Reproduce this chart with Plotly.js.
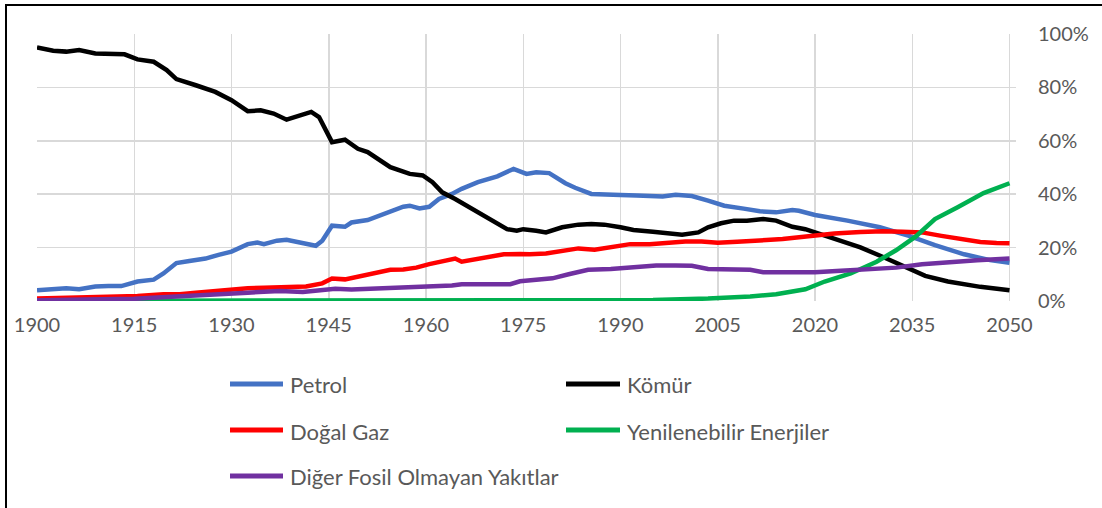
<!DOCTYPE html>
<html>
<head>
<meta charset="utf-8">
<script src="https://cdn.plot.ly/plotly-3.0.1.min.js"></script>
<style>html,body{margin:0;padding:0;background:#fff;}#chart{width:1102px;height:508px;}</style>
</head>
<body>
<div id="chart"></div>
<script>
// ---- data ----
const seriesNames = ["Petrol", "Kömür", "Doğal Gaz", "Yenilenebilir Enerjiler", "Diğer Fosil Olmayan Yakıtlar"];
const seriesColors = ["#4472C4", "#000000", "#FF0000", "#00B050", "#7030A0"];

const petrolYears = [1900,1902.5,1904.5,1906.5,1909,1911,1913,1915.5,1918,1919.5,1921.5,1923.5,1926,1928,1930,1932.5,1934,1935,1937,1938.5,1940.5,1941.5,1943,1944,1945.5,1947.5,1948.5,1951,1954,1956.5,1957.5,1959,1960.5,1962,1964,1965.5,1968,1971,1973.5,1975.5,1977,1979,1981.5,1983,1985.5,1987.5,1990,1992.5,1994.5,1996.5,1998.5,2001,2003.5,2006,2009,2011.5,2014,2016.5,2017.5,2020,2025,2030,2034.5,2038.5,2043,2047,2050];
const petrolValues = [4.0,4.6,4.8,4.4,5.4,5.6,5.6,7.3,8.0,10.3,14.2,15.0,15.9,17.3,18.5,21.3,21.9,21.3,22.6,22.9,21.9,21.7,20.7,22.6,28.2,27.8,29.4,30.3,33.2,35.3,35.7,34.7,35.3,38.2,40.1,42.0,44.5,46.7,49.5,47.6,48.2,47.9,44.1,42.4,40.1,39.8,39.7,39.5,39.5,39.1,39.8,39.3,37.6,35.7,34.6,33.6,33.2,34.1,33.8,32.2,30.1,27.6,24.4,20.9,17.5,15.3,14.3];

const komurYears = [1900,1902.5,1904.5,1906.5,1909,1911,1913.5,1915.5,1918,1920,1921.5,1924.5,1927.5,1930,1932.5,1934.5,1936.5,1938.5,1940.5,1942.3,1943.5,1944.5,1945.5,1947.5,1949.5,1951,1952.5,1954.5,1957.5,1959.5,1961,1962.5,1964.5,1968,1970,1972.5,1974,1975,1977,1978.5,1981,1983.5,1985.5,1987.5,1990,1992,1995,1997.5,1999.5,2002,2003.5,2005.5,2007.5,2009.5,2012,2014,2016.5,2018.5,2020,2023,2027,2030.5,2033.5,2037,2040.5,2045.5,2050];
const komurValues = [95.0,93.7,93.4,94.0,92.7,92.4,92.4,90.5,89.6,86.5,83.1,80.8,78.3,75.2,71.1,71.4,70.2,67.9,69.5,70.8,68.9,64.5,59.5,60.4,57.0,55.8,53.3,50.1,47.6,47.0,44.5,40.7,38.2,33.2,30.1,26.9,26.3,26.9,26.3,25.7,27.6,28.6,28.8,28.6,27.6,26.6,25.9,25.3,24.8,25.7,27.6,29.1,30.1,30.1,30.7,30.1,27.8,26.9,25.7,23.2,20.1,16.5,13.2,9.4,7.3,5.3,4.0];

const gazYears = [1900,1909,1915.5,1919.5,1922,1924.5,1927.5,1930,1932.5,1935,1937.5,1939,1941.5,1944,1945.5,1947.5,1950,1952.5,1954.5,1956.5,1958.5,1960.5,1962.5,1964.5,1965.5,1968,1970,1972,1974.5,1976,1978.5,1981,1983.5,1986,1988.5,1991.5,1994.5,1997,2000,2002.5,2005,2008,2010,2012.5,2015,2017.5,2020,2023,2027,2030.5,2033.5,2036.5,2039.5,2043,2045.5,2048,2050];
const gazValues = [0.9,1.3,1.9,2.5,2.5,3.1,3.8,4.4,4.8,5.0,5.3,5.5,5.4,6.6,8.4,8.1,9.4,11.0,11.7,11.8,12.5,13.8,15.0,15.9,14.7,15.9,16.7,17.5,17.6,17.5,17.8,18.8,19.7,19.2,20.1,21.3,21.3,21.9,22.3,22.3,21.8,22.2,22.3,22.8,23.2,23.8,24.7,25.3,25.8,26.1,25.9,25.7,24.4,22.9,22.1,21.7,21.6];

const yenileYears = [1900,1920,1950,1980,1995,2003.5,2005,2007,2010,2014,2018.5,2021.5,2025.5,2029.5,2032.5,2035.5,2038.5,2042,2046,2050];
const yenileValues = [0.0,0.1,0.1,0.2,0.4,0.9,1.0,1.3,1.7,2.5,4.4,7.3,10.3,14.7,19.0,24.1,30.7,35.1,40.4,44.1];

const digerYears = [1900,1910,1915,1920,1925,1930,1932.5,1935,1937.5,1941,1944,1946,1948.5,1951.5,1956.5,1959,1960.5,1964,1965.5,1969.5,1973,1974.5,1977,1979.5,1982,1985,1988.5,1990.5,1993.5,1995.5,1998.5,2001,2003.5,2005.5,2008,2010,2012,2015,2018,2020,2024,2028.5,2032.5,2036.5,2040.5,2045,2050];
const digerValues = [0.3,0.5,0.8,1.5,2.0,2.7,3.1,3.5,3.7,3.4,4.0,4.6,4.3,4.6,5.0,5.5,5.3,5.8,6.3,6.3,6.3,7.4,7.8,8.5,10.0,11.7,12.0,12.3,12.8,13.3,13.3,13.2,12.0,12.0,11.8,11.7,10.8,10.8,10.5,10.8,11.3,11.9,12.5,13.8,14.7,15.3,15.9];

const xTick0 = 1900, xDtick = 15;
const yTickLabelSuffix = "%";

// ---- layout geometry ----
const W = 1102, H = 508;
const M = {l: 37, r: 86, t: 34, b: 207};
const plotW = W - M.l - M.r, plotH = H - M.t - M.b;
const px2x = p => (p - M.l) / plotW;
const py2y = p => (H - M.b - p) / plotH;

const allYears = [petrolYears, komurYears, gazYears, yenileYears, digerYears];
const allValues = [petrolValues, komurValues, gazValues, yenileValues, digerValues];

const traces = seriesNames.map((n, i) => ({
  type: "scatter", mode: "lines", name: n,
  x: allYears[i], y: allValues[i],
  line: {color: seriesColors[i], width: 4.5},
  showlegend: false, hoverinfo: "skip"
}));

const fontFam = "Lato, 'Open Sans', 'DejaVu Sans', sans-serif";
const txtColor = "#595959";

// manual legend (2 columns, 3 rows) like the reference
const legCols = [{l0: 230, l1: 283, t: 288}, {l0: 566, l1: 620, t: 625}];
const legRows = [384, 430, 476];
const shapes = [];
const annotations = [];
seriesNames.forEach((n, i) => {
  const c = legCols[i % 2], r = legRows[Math.floor(i / 2)];
  shapes.push({type: "line", xref: "paper", yref: "paper",
    x0: px2x(c.l0), x1: px2x(c.l1), y0: py2y(r), y1: py2y(r),
    line: {color: seriesColors[i], width: 5}});
  annotations.push({xref: "paper", yref: "paper", x: px2x(c.t), y: py2y(r + 1),
    xanchor: "left", yanchor: "middle", showarrow: false, text: n,
    font: {family: fontFam, size: 22, color: txtColor}});
});
// outer frame (left + top edges visible in reference)
shapes.push({type: "line", xref: "paper", yref: "paper",
  x0: px2x(6), x1: px2x(6), y0: py2y(5), y1: py2y(520), line: {color: "#000", width: 2}});
shapes.push({type: "line", xref: "paper", yref: "paper",
  x0: px2x(5), x1: px2x(1110), y0: py2y(5), y1: py2y(5), line: {color: "#000", width: 2}});

const layout = {
  width: W, height: H,
  margin: {l: M.l, r: M.r, t: M.t, b: M.b, pad: 0},
  paper_bgcolor: "#fff", plot_bgcolor: "#fff",
  showlegend: false,
  xaxis: {
    range: [1900, 2051], tickmode: "linear", tick0: xTick0, dtick: xDtick,
    showgrid: true, gridcolor: "#D9D9D9", gridwidth: 1.5,
    zeroline: false, showline: false, ticks: "",
    ticklabelstandoff: 10,
    tickfont: {family: fontFam, size: 20, color: txtColor}
  },
  yaxis: {
    side: "right", range: [0, 100], tickmode: "linear", tick0: 0, dtick: 20,
    ticksuffix: yTickLabelSuffix,
    showgrid: true, gridcolor: "#D9D9D9", gridwidth: 1.5,
    zeroline: false, showline: false, ticks: "",
    ticklabelstandoff: 21,
    tickfont: {family: fontFam, size: 20, color: txtColor}
  },
  shapes: shapes,
  annotations: annotations
};

Plotly.newPlot("chart", traces, layout, {displayModeBar: false, staticPlot: true});
</script>
</body>
</html>
